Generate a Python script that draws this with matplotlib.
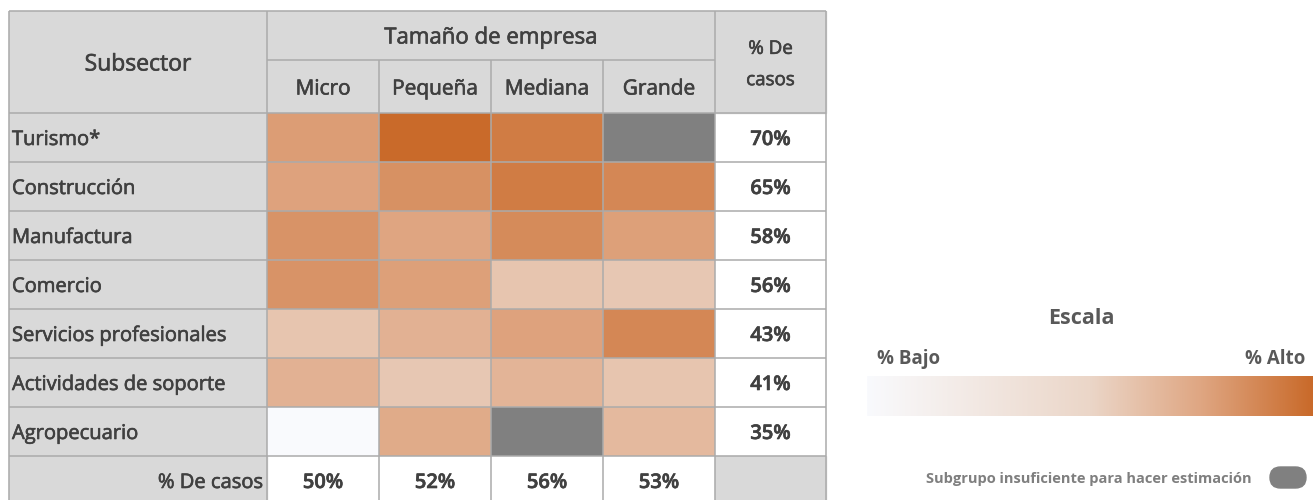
#! /usr/bin/env python3

import numpy as np
import matplotlib
matplotlib.use("Agg")
import matplotlib.pyplot as plt
import matplotlib.patheffects as pe
from matplotlib.colors import LinearSegmentedColormap, Normalize
from matplotlib.patches import Rectangle, FancyBboxPatch

plt.rcParams['font.family'] = ['Open Sans', 'DejaVu Sans']

subsectores = ["Turismo*", "Construcción", "Manufactura", "Comercio",
               "Servicios profesionales", "Actividades de soporte", "Agropecuario"]
tamanos = ["Micro", "Pequeña", "Mediana", "Grande"]

# % por celda (nan = subgrupo insuficiente)
micro   = [63, 61, 66, 66, 47, 55, 0]
pequena = [80, 67, 60, 62, 55, 46, 58]
mediana = [74, 74, 69, 47, 61, 54, np.nan]
grande  = [np.nan, 70, 62, 46, 70, 47, 52]

casos_subsector = [70, 65, 58, 56, 43, 41, 35]
casos_tamano = [50, 52, 56, 53]

valores = np.ma.masked_invalid(np.array([micro, pequena, mediana, grande]).T)

cmap = LinearSegmentedColormap.from_list(
    "escala", [(0, "#F9FAFD"), (0.5, "#EBD6C8"), (0.75, "#DFA682"), (1, "#C96A2A")])
cmap.set_bad("#808080")
norm = Normalize(vmin=0, vmax=80)

# layout in pixel units
xcol = np.array([9, 267, 379, 491, 603, 715, 826])
ytop, ymid, yhead = 11, 60, 113
rh = 49
yrows = yhead + rh * np.arange(len(subsectores) + 2)

txt = "#404040"
linec = "#ABABAB"
w_val = 600
thick = [pe.withStroke(linewidth=0.45, foreground=txt)]
dy = 2.5  # text sits a bit low in the cells

fig = plt.figure(figsize=(13.13, 5), dpi=100)
ax = fig.add_axes([0, 0, 1, 1])
ax.set_xlim(0, 1313)
ax.set_ylim(500, 0)
ax.axis("off")

# grey backgrounds
ax.add_patch(Rectangle((xcol[0], ytop), xcol[-1] - xcol[0], yhead - ytop, color="#D9D9D9", zorder=0))
ax.add_patch(Rectangle((xcol[0], yhead), xcol[1] - xcol[0], yrows[-1] - yhead, color="#D9D9D9", zorder=0))
ax.add_patch(Rectangle((xcol[5], yrows[-2]), xcol[6] - xcol[5], rh, color="#D9D9D9", zorder=0))

# heatmap
ax.pcolormesh(xcol[1:6], yrows[:len(subsectores) + 1], valores, cmap=cmap, norm=norm, zorder=1)

# grid lines
lw = 1.1
for y in yrows:
    ax.hlines(y, xcol[0], xcol[-1], color=linec, lw=lw, zorder=2)
ax.hlines(ytop, xcol[0], xcol[-1], color=linec, lw=lw, zorder=2)
ax.hlines(ymid, xcol[1], xcol[5], color=linec, lw=lw, zorder=2)
for i, x in enumerate(xcol):
    y0 = ymid if i in (2, 3, 4) else ytop
    ax.vlines(x, y0, yrows[-1], color=linec, lw=lw, zorder=2)

# header text
ax.text((xcol[0] + xcol[1]) / 2, (ytop + yhead) / 2 + dy, "Subsector", ha="center", va="center",
        fontsize=16.5, color=txt, path_effects=thick)
ax.text((xcol[1] + xcol[5]) / 2, (ytop + ymid) / 2 + dy, "Tamaño de empresa", ha="center", va="center",
        fontsize=16, color=txt, path_effects=thick)
for i, t in enumerate(tamanos):
    ax.text((xcol[i + 1] + xcol[i + 2]) / 2, (ymid + yhead) / 2 + dy, t, ha="center", va="center",
            fontsize=15, color=txt, path_effects=thick)
ax.text((xcol[5] + xcol[6]) / 2, (ytop + yhead) / 2 + dy, "% De\ncasos", ha="center", va="center",
        fontsize=13.5, color=txt, linespacing=1.95, path_effects=thick)

# row labels and totals
for i, s in enumerate(subsectores):
    yc = (yrows[i] + yrows[i + 1]) / 2 + dy
    ax.text(xcol[0] + 3, yc, s, ha="left", va="center", fontsize=14.5, color=txt, path_effects=thick)
    ax.text((xcol[5] + xcol[6]) / 2, yc, f"{casos_subsector[i]}%", ha="center", va="center",
            fontsize=14.5, color=txt, fontweight=w_val, path_effects=thick)

ylast = (yrows[-2] + yrows[-1]) / 2 + dy
ax.text(xcol[1] - 4, ylast, "% De casos", ha="right", va="center", fontsize=14.5, color=txt,
        path_effects=thick)
for i, v in enumerate(casos_tamano):
    ax.text((xcol[i + 1] + xcol[i + 2]) / 2, ylast, f"{v}%", ha="center", va="center",
            fontsize=14.5, color=txt, fontweight=w_val, path_effects=thick)

# legend
ax.text(1081, 318, "Escala", ha="center", va="center", fontsize=15.5, color="#595959", fontweight="bold")
ax.text(877, 359, "% Bajo", ha="left", va="center", fontsize=13.5, color="#595959", fontweight="bold")
ax.text(1305, 359, "% Alto", ha="right", va="center", fontsize=13.5, color="#595959", fontweight="bold")
grad = np.linspace(0, 1, 256).reshape(1, -1)
ax.imshow(grad, cmap=cmap, aspect="auto", extent=[867, 1313, 416, 376], zorder=1)
ax.set_xlim(0, 1313)
ax.set_ylim(500, 0)
ax.text(1252, 479, "Subgrupo insuficiente para hacer estimación", ha="right", va="center",
        fontsize=10.5, color="#7F7F7F", fontweight="bold")
ax.add_patch(FancyBboxPatch((1270, 467), 36, 21, boxstyle="round,pad=0,rounding_size=10.5",
                            color="#808080", zorder=2))

fig.savefig("out.png", dpi=100)
